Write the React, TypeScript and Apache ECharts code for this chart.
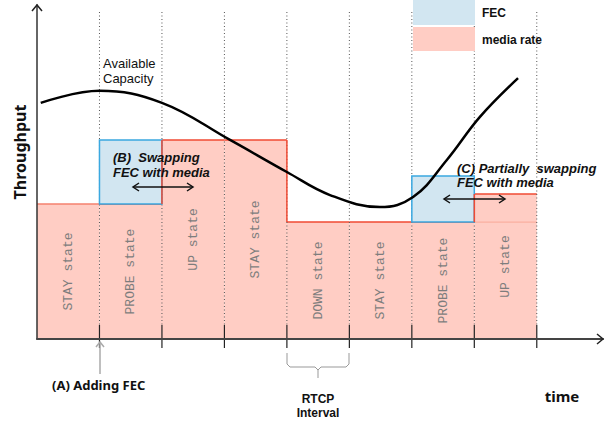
import React, { useEffect, useRef } from "react";
import * as echarts from "echarts";

// ---- data ----
const states = ["STAY state", "PROBE state", "UP state", "STAY state", "DOWN state", "STAY state", "PROBE state", "UP state"];
const mediaRate = [40.4, 40.4, 59.6, 59.6, 35, 35, 35, 43.4];
const fecRate = [0, 19.2, 0, 0, 0, 0, 13.8, 0];
const capacityX = [0.06, 1.0, 2.0, 3.09, 4.0, 4.69, 5.49, 6.02, 6.56, 7.09, 7.7];
const capacityY = [70.7, 74.3, 70.7, 59.6, 50.0, 43.1, 39.5, 42.5, 53.6, 66.5, 78.1];

const PINK = "#FFCDC4";
const RED = "#F04A33";
const BLUE_FILL = "#D2E6F1";
const BLUE = "#3AA8E0";
const SANS = "'Liberation Sans', Arial, sans-serif";
const GEO = "'Noto Sans', sans-serif";

function txt(x: number, y: number, text: string, font: string, extra: any = {}) {
  return {
    type: "text",
    x,
    y,
    silent: true,
    z: 100,
    ...extra,
    style: {
      text,
      font,
      fill: extra.fill || "#111",
      align: extra.align || "left",
      textAlign: extra.align || "left",
      verticalAlign: "middle",
      textVerticalAlign: "middle",
    },
  };
}

function doubleArrow(x1: number, x2: number, y: number) {
  const s = { stroke: "#111", lineWidth: 1.5, fill: "none" };
  return [
    { type: "line", z: 100, shape: { x1, y1: y, x2, y2: y }, style: s },
    { type: "polyline", z: 100, shape: { points: [[x1 + 6, y - 4], [x1, y], [x1 + 6, y + 4]] }, style: s },
    { type: "polyline", z: 100, shape: { points: [[x2 - 6, y - 4], [x2, y], [x2 - 6, y + 4]] }, style: s },
  ];
}

export default function App() {
  const ref = useRef<HTMLDivElement>(null);
  useEffect(() => {
    if (!ref.current) return;
    const chart = echarts.init(ref.current, undefined, { renderer: "svg" });
    const barData = states.map((_, i) => [i, mediaRate[i], fecRate[i], i > 0 ? mediaRate[i - 1] : mediaRate[i]]);
    const last = states.length - 1;

    const renderItem = (params: any, api: any) => {
      const i = api.value(0);
      const m = api.value(1);
      const f = api.value(2);
      const prev = api.value(3);
      const [xl, yb] = api.coord([i, 0]);
      const [xr, ym] = api.coord([i + 1, m]);
      const yf = api.coord([i + 1, m + f])[1];
      const yTop = api.coord([0, 97.9])[1];
      const yTickTop = api.coord([0, 4.2])[1];
      const yTickBot = api.coord([0, -2.7])[1];
      const children: any[] = [];
      children.push({ type: "rect", z2: 0, shape: { x: xl, y: ym, width: xr - xl, height: yb - ym }, style: { fill: PINK } });
      children.push({
        type: "line", z2: 1,
        shape: { x1: xl, y1: ym, x2: xr, y2: ym },
        style: { stroke: i === 0 ? "#F4806E" : RED, lineWidth: 1.5 },
      });
      if (i === last && prev < m) {
        const yp = api.coord([i, prev])[1];
        children.push({ type: "line", z2: 1, shape: { x1: xl, y1: yp, x2: xr, y2: yp }, style: { stroke: "#F9A898", lineWidth: 1 } });
      }
      if (f > 0) {
        children.push({
          type: "rect", z2: 3,
          shape: { x: xl, y: yf, width: xr - xl, height: ym - yf },
          style: { fill: BLUE_FILL, stroke: BLUE, lineWidth: 1.5 },
        });
      }
      if (i > 0 && prev !== m) {
        const yp = api.coord([i, prev])[1];
        children.push({ type: "line", z2: 4, shape: { x1: xl, y1: yp, x2: xl, y2: ym }, style: { stroke: RED, lineWidth: 1.5 } });
      }
      children.push({
        type: "line", z2: 2,
        shape: { x1: xr, y1: yTop, x2: xr, y2: yTickTop },
        style: { stroke: "#555", lineWidth: 1, lineDash: [1, 2.5] },
      });
      children.push({
        type: "line", z2: 5,
        shape: { x1: xr, y1: yTickTop, x2: xr, y2: yTickBot },
        style: { stroke: "#222", lineWidth: 1.2 },
      });
      children.push({
        type: "text", z2: 6,
        x: (xl + xr) / 2, y: (ym + yb) / 2, rotation: Math.PI / 2,
        style: {
          text: states[i], fill: "#7d7d7d", fontSize: 13,
          fontFamily: "'Liberation Mono', 'Courier New', monospace",
          align: "center", verticalAlign: "middle",
        },
      });
      return { type: "group", children };
    };

    chart.setOption({
      animation: false,
      grid: { left: 37, right: 5, top: 5, bottom: 82 },
      xAxis: {
        type: "value", min: 0, max: 9.06, z: 10,
        axisLine: { show: true, lineStyle: { color: "#444", width: 2 } },
        axisTick: { show: false }, axisLabel: { show: false }, splitLine: { show: false },
      },
      yAxis: {
        type: "value", min: 0, max: 100, z: 10,
        axisLine: { show: true, lineStyle: { color: "#333", width: 1.5 } },
        axisTick: { show: false }, axisLabel: { show: false }, splitLine: { show: false },
      },
      series: [
        { type: "custom", name: "media rate", renderItem, data: barData, clip: false, z: 2 },
        {
          type: "line", name: "Available Capacity", smooth: 0.4, showSymbol: false, z: 5,
          lineStyle: { color: "#000", width: 2.5 },
          data: capacityX.map((x, i) => [x, capacityY[i]]),
        },
      ],
      graphic: [
        { type: "polyline", z: 100, shape: { points: [[32, 11], [37, 5], [42, 11]] }, style: { stroke: "#222", lineWidth: 1.5, fill: "none" } },
        { type: "polyline", z: 100, shape: { points: [[597, 334], [603, 339], [597, 344]] }, style: { stroke: "#222", lineWidth: 1.5, fill: "none" } },
        txt(20, 152, "Throughput", `bold 16px ${GEO}`, { rotation: Math.PI / 2, align: "center" }),
        txt(103, 63, "Available", `13px ${SANS}`),
        txt(103, 78, "Capacity", `13px ${SANS}`),
        txt(113, 157, "(B)  Swapping", `italic bold 13px ${SANS}`),
        txt(113, 172, "FEC with media", `italic bold 13px ${SANS}`),
        ...doubleArrow(133, 193, 187),
        txt(457, 168, "(C) Partially  swapping", `italic bold 13px ${SANS}`),
        txt(457, 182, "FEC with media", `italic bold 13px ${SANS}`),
        ...doubleArrow(444, 505, 199),
        { type: "rect", z: 100, shape: { x: 413, y: 0, width: 62, height: 25 }, style: { fill: BLUE_FILL } },
        { type: "rect", z: 100, shape: { x: 413, y: 27, width: 62, height: 24 }, style: { fill: PINK } },
        txt(482, 13, "FEC", `bold 12px ${SANS}`),
        txt(482, 40, "media rate", `bold 12px ${SANS}`),
        { type: "line", z: 100, shape: { x1: 100, y1: 374, x2: 100, y2: 342 }, style: { stroke: "#aaa", lineWidth: 1.5 } },
        { type: "polyline", z: 100, shape: { points: [[96, 347], [100, 342], [104, 347]] }, style: { stroke: "#aaa", lineWidth: 1.5, fill: "none" } },
        txt(52, 385, "(A) Adding FEC", `bold 13px ${GEO}`),
        {
          type: "polyline", z: 100,
          shape: { points: [[287, 353], [287, 364], [290, 367], [315, 367], [318, 370], [318, 378]] },
          style: { stroke: "#999", lineWidth: 1, fill: "none" },
        },
        {
          type: "polyline", z: 100,
          shape: { points: [[318, 370], [321, 367], [346, 367], [349, 364], [349, 353]] },
          style: { stroke: "#999", lineWidth: 1, fill: "none" },
        },
        txt(318, 399, "RTCP", `bold 12px ${SANS}`, { align: "center" }),
        txt(318, 413, "Interval", `bold 12px ${SANS}`, { align: "center" }),
        txt(562, 396, "time", `bold 15px ${GEO}`, { align: "center" }),
      ],
    });
    return () => chart.dispose();
  }, []);
  return <div ref={ref} style={{ position: "fixed", left: 0, top: 0, width: 608, height: 421, background: "#fff" }} />;
}
